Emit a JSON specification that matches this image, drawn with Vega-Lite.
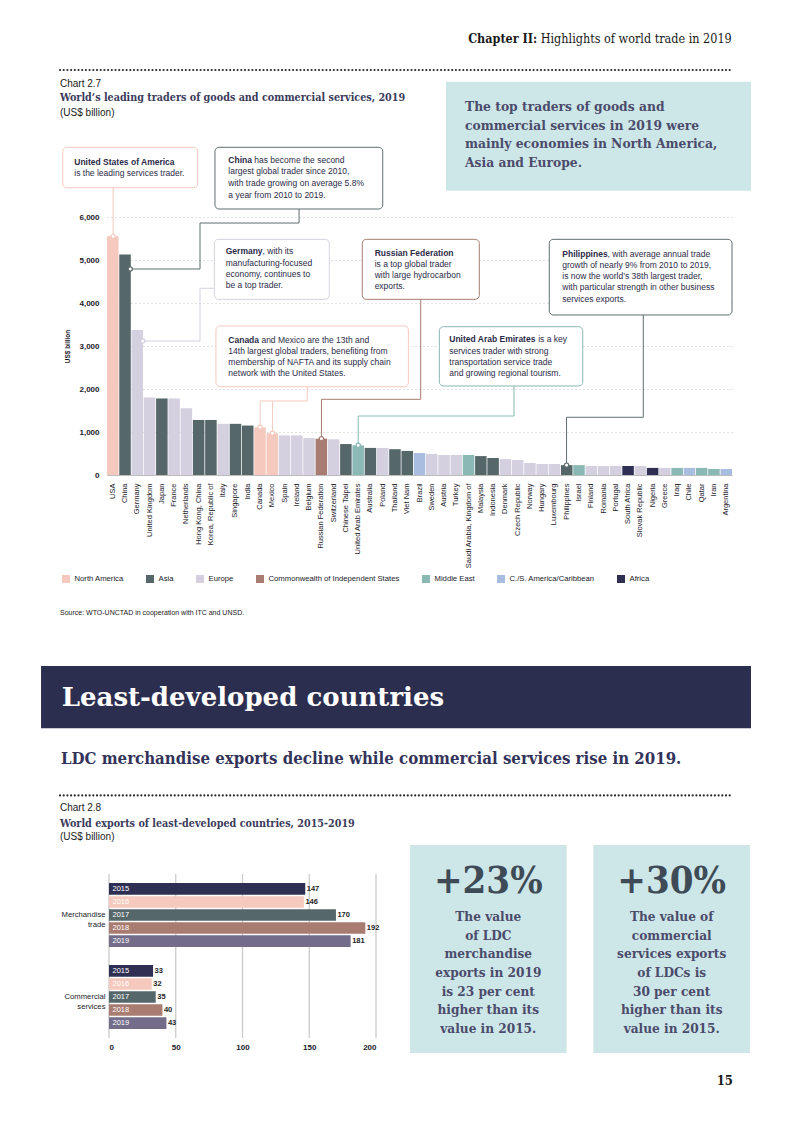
{
  "$schema": "https://vega.github.io/schema/vega-lite/v6.json",
  "width": 793,
  "height": 1122,
  "padding": 0,
  "autosize": {"type": "none"},
  "background": "white",
  "config": {"view": {"stroke": null}, "font": "Liberation Sans"},
  "datasets": {
    "traders": [
      {"country": "USA", "region": "North America", "value": 5550},
      {"country": "China", "region": "Asia", "value": 5130},
      {"country": "Germany", "region": "Europe", "value": 3370},
      {"country": "United Kingdom", "region": "Europe", "value": 1800},
      {"country": "Japan", "region": "Asia", "value": 1780},
      {"country": "France", "region": "Europe", "value": 1780},
      {"country": "Netherlands", "region": "Europe", "value": 1550},
      {"country": "Hong Kong, China", "region": "Asia", "value": 1280},
      {"country": "Korea, Republic of", "region": "Asia", "value": 1280},
      {"country": "Italy", "region": "Europe", "value": 1190},
      {"country": "Singapore", "region": "Asia", "value": 1190},
      {"country": "India", "region": "Asia", "value": 1150},
      {"country": "Canada", "region": "North America", "value": 1110},
      {"country": "Mexico", "region": "North America", "value": 970},
      {"country": "Spain", "region": "Europe", "value": 920},
      {"country": "Ireland", "region": "Europe", "value": 920},
      {"country": "Belgium", "region": "Europe", "value": 860},
      {"country": "Russian Federation", "region": "Commonwealth of Independent States", "value": 845},
      {"country": "Switzerland", "region": "Europe", "value": 830},
      {"country": "Chinese Taipei", "region": "Asia", "value": 720},
      {"country": "United Arab Emirates", "region": "Middle East", "value": 690},
      {"country": "Australia", "region": "Asia", "value": 630},
      {"country": "Poland", "region": "Europe", "value": 630},
      {"country": "Thailand", "region": "Asia", "value": 600},
      {"country": "Viet Nam", "region": "Asia", "value": 560},
      {"country": "Brazil", "region": "C./S. America/Caribbean", "value": 510},
      {"country": "Sweden", "region": "Europe", "value": 490},
      {"country": "Austria", "region": "Europe", "value": 465},
      {"country": "Turkey", "region": "Europe", "value": 465},
      {"country": "Saudi Arabia, Kingdom of", "region": "Middle East", "value": 465},
      {"country": "Malaysia", "region": "Asia", "value": 440},
      {"country": "Indonesia", "region": "Asia", "value": 395},
      {"country": "Denmark", "region": "Europe", "value": 370},
      {"country": "Czech Republic", "region": "Europe", "value": 350},
      {"country": "Norway", "region": "Europe", "value": 280},
      {"country": "Hungary", "region": "Europe", "value": 255},
      {"country": "Luxembourg", "region": "Europe", "value": 255},
      {"country": "Philippines", "region": "Asia", "value": 230},
      {"country": "Israel", "region": "Middle East", "value": 230},
      {"country": "Finland", "region": "Europe", "value": 210},
      {"country": "Romania", "region": "Europe", "value": 210},
      {"country": "Portugal", "region": "Europe", "value": 210},
      {"country": "South Africa", "region": "Africa", "value": 210},
      {"country": "Slovak Republic", "region": "Europe", "value": 210},
      {"country": "Nigeria", "region": "Africa", "value": 165},
      {"country": "Greece", "region": "Europe", "value": 165},
      {"country": "Iraq", "region": "Middle East", "value": 165},
      {"country": "Chile", "region": "C./S. America/Caribbean", "value": 165},
      {"country": "Qatar", "region": "Middle East", "value": 165},
      {"country": "Iran", "region": "Middle East", "value": 140},
      {"country": "Argentina", "region": "C./S. America/Caribbean", "value": 140}
    ],
    "boxes1": [
      {"u1": -3.61, "u2": 7.40, "v1": 7621, "v2": 6681, "region": "North America"},
      {"u1": 8.81, "u2": 22.50, "v1": 7621, "v2": 6186, "region": "Asia"},
      {"u1": 8.76, "u2": 18.14, "v1": 5481, "v2": 4086, "region": "Europe"},
      {"u1": 8.89, "u2": 24.59, "v1": 3465, "v2": 2053, "region": "North America"},
      {"u1": 20.83, "u2": 30.38, "v1": 5481, "v2": 4086, "region": "Commonwealth of Independent States"},
      {"u1": 27.12, "u2": 38.82, "v1": 3449, "v2": 2070, "region": "Middle East"},
      {"u1": 36.09, "u2": 51.0, "v1": 5481, "v2": 3721, "region": "Asia"}
    ],
    "links1": [
      {"id": "usa", "o": 1, "u": 0.5, "v": 6681, "region": "North America"},
      {"id": "usa", "o": 2, "u": 0.5, "v": 5550, "region": "North America"},
      {"id": "chn", "o": 1, "u": 15.67, "v": 6186, "region": "Asia"},
      {"id": "chn", "o": 2, "u": 15.67, "v": 5860, "region": "Asia"},
      {"id": "chn", "o": 3, "u": 7.59, "v": 5860, "region": "Asia"},
      {"id": "chn", "o": 4, "u": 7.59, "v": 4791, "region": "Asia"},
      {"id": "chn", "o": 5, "u": 1.90, "v": 4791, "region": "Asia"},
      {"id": "deu", "o": 1, "u": 8.76, "v": 4342, "region": "Europe"},
      {"id": "deu", "o": 2, "u": 7.59, "v": 4342, "region": "Europe"},
      {"id": "deu", "o": 3, "u": 7.59, "v": 3116, "region": "Europe"},
      {"id": "deu", "o": 4, "u": 2.91, "v": 3116, "region": "Europe"},
      {"id": "mex", "o": 1, "u": 16.34, "v": 2053, "region": "North America"},
      {"id": "mex", "o": 2, "u": 16.34, "v": 1721, "region": "North America"},
      {"id": "mex", "o": 3, "u": 13.5, "v": 1721, "region": "North America"},
      {"id": "mex", "o": 4, "u": 13.5, "v": 970, "region": "North America"},
      {"id": "can", "o": 1, "u": 13.5, "v": 1721, "region": "North America"},
      {"id": "can", "o": 2, "u": 12.5, "v": 1721, "region": "North America"},
      {"id": "can", "o": 3, "u": 12.5, "v": 1110, "region": "North America"},
      {"id": "rus", "o": 1, "u": 25.60, "v": 4086, "region": "Commonwealth of Independent States"},
      {"id": "rus", "o": 2, "u": 25.60, "v": 1760, "region": "Commonwealth of Independent States"},
      {"id": "rus", "o": 3, "u": 17.5, "v": 1760, "region": "Commonwealth of Independent States"},
      {"id": "rus", "o": 4, "u": 17.5, "v": 845, "region": "Commonwealth of Independent States"},
      {"id": "are", "o": 1, "u": 33.21, "v": 2070, "region": "Middle East"},
      {"id": "are", "o": 2, "u": 33.21, "v": 1372, "region": "Middle East"},
      {"id": "are", "o": 3, "u": 20.5, "v": 1372, "region": "Middle East"},
      {"id": "are", "o": 4, "u": 20.5, "v": 690, "region": "Middle East"},
      {"id": "phl", "o": 1, "u": 43.76, "v": 3721, "region": "Asia"},
      {"id": "phl", "o": 2, "u": 43.76, "v": 1342, "region": "Asia"},
      {"id": "phl", "o": 3, "u": 37.5, "v": 1342, "region": "Asia"},
      {"id": "phl", "o": 4, "u": 37.5, "v": 230, "region": "Asia"}
    ],
    "dots1": [
      {"u": 0.5, "v": 5550, "region": "North America"},
      {"u": 1.90, "v": 4791, "region": "Asia"},
      {"u": 2.91, "v": 3116, "region": "Europe"},
      {"u": 12.5, "v": 1110, "region": "North America"},
      {"u": 13.5, "v": 970, "region": "North America"},
      {"u": 17.5, "v": 845, "region": "Commonwealth of Independent States"},
      {"u": 20.5, "v": 690, "region": "Middle East"},
      {"u": 37.5, "v": 230, "region": "Asia"}
    ],
    "notes1": [
      {"k": "hb", "u": 35.11, "v": 10140, "t": "Chapter II:"},
      {"k": "hr", "u": 35.39, "v": 10140, "t": "Highlights of world trade in 2019"},
      {"k": "c", "u": -3.835, "v": 9093, "t": "Chart 2.7"},
      {"k": "t", "u": -3.835, "v": 8761, "t": "World’s leading traders of goods and commercial services, 2019"},
      {"k": "c", "u": -3.835, "v": 8426, "t": "(US$ billion)"},
      {"k": "i", "u": 29.21, "v": 8551, "t": "The top traders of goods and"},
      {"k": "i", "u": 29.21, "v": 8116, "t": "commercial services in 2019 were"},
      {"k": "i", "u": 29.21, "v": 7691, "t": "mainly economies in North America,"},
      {"k": "i", "u": 29.21, "v": 7249, "t": "Asia and Europe."},
      {"k": "nb", "u": -2.67, "v": 7286, "t": "United States of America"},
      {"k": "nr", "u": -2.67, "v": 7030, "t": "is the leading services trader."},
      {"k": "nb", "u": 9.90, "v": 7326, "t": "China"},
      {"k": "nr", "u": 12.02, "v": 7326, "t": "has become the second"},
      {"k": "nr", "u": 9.90, "v": 7070, "t": "largest global trader since 2010,"},
      {"k": "nr", "u": 9.90, "v": 6798, "t": "with trade growing on average 5.8%"},
      {"k": "nr", "u": 9.90, "v": 6512, "t": "a year from 2010 to 2019."},
      {"k": "nb", "u": 9.69, "v": 5209, "t": "Germany"},
      {"k": "nr", "u": 12.69, "v": 5209, "t": ", with its"},
      {"k": "nr", "u": 9.69, "v": 4937, "t": "manufacturing-focused"},
      {"k": "nr", "u": 9.69, "v": 4674, "t": "economy, continues to"},
      {"k": "nr", "u": 9.69, "v": 4419, "t": "be a top trader."},
      {"k": "nb", "u": 9.90, "v": 3140, "t": "Canada"},
      {"k": "nr", "u": 12.60, "v": 3140, "t": "and Mexico are the 13th and"},
      {"k": "nr", "u": 9.90, "v": 2884, "t": "14th largest global traders, benefiting from"},
      {"k": "nr", "u": 9.90, "v": 2628, "t": "membership of NAFTA and its supply chain"},
      {"k": "nr", "u": 9.90, "v": 2365, "t": "network with the United States."},
      {"k": "nb", "u": 21.84, "v": 5170, "t": "Russian Federation"},
      {"k": "nr", "u": 21.84, "v": 4907, "t": "is a top global trader"},
      {"k": "nr", "u": 21.84, "v": 4651, "t": "with large hydrocarbon"},
      {"k": "nr", "u": 21.84, "v": 4395, "t": "exports."},
      {"k": "nb", "u": 27.93, "v": 3156, "t": "United Arab Emirates"},
      {"k": "nr", "u": 35.18, "v": 3156, "t": "is a key"},
      {"k": "nr", "u": 27.93, "v": 2891, "t": "services trader with strong"},
      {"k": "nr", "u": 27.93, "v": 2628, "t": "transportation service trade"},
      {"k": "nr", "u": 27.93, "v": 2365, "t": "and growing regional tourism."},
      {"k": "nb", "u": 37.15, "v": 5140, "t": "Philippines"},
      {"k": "nr", "u": 40.85, "v": 5140, "t": ", with average annual trade"},
      {"k": "nr", "u": 37.15, "v": 4884, "t": "growth of nearly 9% from 2010 to 2019,"},
      {"k": "nr", "u": 37.15, "v": 4621, "t": "is now the world’s 38th largest trader,"},
      {"k": "nr", "u": 37.15, "v": 4365, "t": "with particular strength in other business"},
      {"k": "nr", "u": 37.15, "v": 4086, "t": "services exports."},
      {"k": "s", "u": -3.835, "v": -3209, "t": "Source: WTO-UNCTAD in cooperation with ITC and UNSD."}
    ],
    "ldc": [
      {"flow": "Merchandise trade", "year": "2015", "value": 147},
      {"flow": "Merchandise trade", "year": "2016", "value": 146},
      {"flow": "Merchandise trade", "year": "2017", "value": 170},
      {"flow": "Merchandise trade", "year": "2018", "value": 192},
      {"flow": "Merchandise trade", "year": "2019", "value": 181},
      {"flow": "Commercial services", "year": "2015", "value": 33},
      {"flow": "Commercial services", "year": "2016", "value": 32},
      {"flow": "Commercial services", "year": "2017", "value": 35},
      {"flow": "Commercial services", "year": "2018", "value": 40},
      {"flow": "Commercial services", "year": "2019", "value": 43}
    ],
    "boxes2": [
      {"k": "ban", "x1": -50.9, "x2": 480.9, "y1": 279, "y2": 232.3},
      {"k": "stat", "x1": 225.5, "x2": 342.8, "y1": 144.75, "y2": -11.25},
      {"k": "stat", "x1": 362.8, "x2": 480.1, "y1": 144.75, "y2": -11.25}
    ],
    "notes2": [
      {"k": "ban", "x": -35.4, "y": 254.8, "t": "Least-developed countries"},
      {"k": "sub", "x": -36.0, "y": 209.3, "t": "LDC merchandise exports decline while commercial services rise in 2019."},
      {"k": "c", "x": -36.7, "y": 172.3, "t": "Chart 2.8"},
      {"k": "t", "x": -36.7, "y": 160.5, "t": "World exports of least-developed countries, 2015-2019"},
      {"k": "c", "x": -36.7, "y": 150.5, "t": "(US$ billion)"},
      {"k": "big", "x": 284.1, "y": 117.2, "t": "+23%"},
      {"k": "big", "x": 421.5, "y": 117.2, "t": "+30%"},
      {"k": "stat", "x": 284.1, "y": 90.5, "t": "The value"},
      {"k": "stat", "x": 284.1, "y": 76.7, "t": "of LDC"},
      {"k": "stat", "x": 284.1, "y": 62.8, "t": "merchandise"},
      {"k": "stat", "x": 284.1, "y": 48.75, "t": "exports in 2019"},
      {"k": "stat", "x": 284.1, "y": 34.7, "t": "is 23 per cent"},
      {"k": "stat", "x": 284.1, "y": 20.8, "t": "higher than its"},
      {"k": "stat", "x": 284.1, "y": 6.75, "t": "value in 2015."},
      {"k": "stat", "x": 421.5, "y": 90.5, "t": "The value of"},
      {"k": "stat", "x": 421.5, "y": 76.7, "t": "commercial"},
      {"k": "stat", "x": 421.5, "y": 62.8, "t": "services exports"},
      {"k": "stat", "x": 421.5, "y": 48.75, "t": "of LDCs is"},
      {"k": "stat", "x": 421.5, "y": 34.7, "t": "30 per cent"},
      {"k": "stat", "x": 421.5, "y": 20.8, "t": "higher than its"},
      {"k": "stat", "x": 421.5, "y": 6.75, "t": "value in 2015."},
      {"k": "pg", "x": 467.4, "y": -32.25, "t": "15"}
    ]
  },
  "resolve": {
    "scale": {"x": "independent", "y": "independent", "color": "independent", "stroke": "independent"},
    "axis": {"x": "independent", "y": "independent"},
    "legend": {"color": "independent", "stroke": "independent"}
  },
  "layer": [
    {
      "data": {"name": "traders"},
      "mark": {"type": "bar"},
      "encoding": {
        "x": {"field": "country", "type": "nominal", "sort": null,
          "scale": {"range": [107, 732], "paddingInner": 0.06, "paddingOuter": 0},
          "axis": {"orient": "bottom", "offset": -647, "title": null, "labelAngle": -90, "labelFontSize": 7.5, "labelColor": "#1a1a2a", "labelPadding": 8, "ticks": false, "domainColor": "#bdbdbd", "labelOverlap": false, "labelLimit": 200}},
        "y": {"field": "value", "type": "quantitative",
          "scale": {"domain": [0, 6000], "range": [475, 217], "nice": false},
          "axis": {"orient": "left", "offset": -107, "values": [0, 1000, 2000, 3000, 4000, 5000, 6000], "format": ",.0f", "title": "US$ billion", "titleFontSize": 6.5, "titleFontWeight": "bold", "titleColor": "#1a1a2a", "titlePadding": 8, "labelFontSize": 8, "labelFontWeight": "bold", "labelColor": "#1a1a2a", "labelPadding": 8, "ticks": false, "domain": false, "grid": true, "gridDash": [1, 3], "gridColor": "#c4c4c4"}},
        "color": {"field": "region", "type": "nominal",
          "scale": {"domain": ["North America", "Asia", "Europe", "Commonwealth of Independent States", "Middle East", "C./S. America/Caribbean", "Africa"],
            "range": ["#f5c9bd", "#56676a", "#d5d0e0", "#a87c70", "#8ab8b5", "#a9bde0", "#2e2f52"]},
          "legend": {"title": null, "orient": "none", "legendX": 62, "legendY": 575, "direction": "horizontal", "columns": 7, "symbolType": "square", "symbolSize": 64, "symbolStrokeWidth": 0, "labelFontSize": 7.7, "labelColor": "#1a1a2a", "labelOffset": 4.5, "columnPadding": 22, "padding": 0}}
      }
    },
    {
      "encoding": {
        "x": {"field": "u", "type": "quantitative", "scale": {"domain": [0, 51], "range": [107, 732], "nice": false, "zero": false}, "axis": null},
        "y": {"field": "v", "type": "quantitative", "scale": {"domain": [0, 6000], "range": [475, 217], "nice": false, "zero": false}, "axis": null}
      },
      "layer": [
        {
          "data": {"values": [{"u1": 27.66, "u2": 52.55, "v1": 9147, "v2": 6612}]},
          "mark": {"type": "rect", "fill": "#cde6e8"},
          "encoding": {
            "x": {"field": "u1", "type": "quantitative", "scale": {"domain": [0, 51], "range": [107, 732], "nice": false, "zero": false}, "axis": null},
            "x2": {"field": "u2"},
            "y": {"field": "v1", "type": "quantitative", "scale": {"domain": [0, 6000], "range": [475, 217], "nice": false, "zero": false}, "axis": null},
            "y2": {"field": "v2"}
          }
        },
        {
          "data": {"values": [{"u1": -3.835, "u2": 51.07, "v": 9419}]},
          "mark": {"type": "rule", "color": "#2a2a2a", "strokeWidth": 2.2, "strokeCap": "round", "strokeDash": [0, 3.7]},
          "encoding": {
            "x": {"field": "u1", "type": "quantitative", "scale": {"domain": [0, 51], "range": [107, 732], "nice": false, "zero": false}, "axis": null},
            "x2": {"field": "u2"}
          }
        },
        {
          "data": {"name": "boxes1"},
          "mark": {"type": "rect", "fill": "white", "strokeWidth": 1, "cornerRadius": 4},
          "encoding": {
            "x": {"field": "u1", "type": "quantitative", "scale": {"domain": [0, 51], "range": [107, 732], "nice": false, "zero": false}, "axis": null},
            "x2": {"field": "u2"},
            "y": {"field": "v1", "type": "quantitative", "scale": {"domain": [0, 6000], "range": [475, 217], "nice": false, "zero": false}, "axis": null},
            "y2": {"field": "v2"},
            "stroke": {"field": "region", "type": "nominal", "legend": null,
              "scale": {"domain": ["North America", "Asia", "Europe", "Commonwealth of Independent States", "Middle East", "C./S. America/Caribbean", "Africa"],
                "range": ["#f5c9bd", "#5f6d6e", "#d5d0e0", "#a87c70", "#8ab8b5", "#a9bde0", "#2e2f52"]}}
          }
        },
        {
          "data": {"name": "links1"},
          "mark": {"type": "line", "strokeWidth": 1, "strokeJoin": "round"},
          "encoding": {
            "detail": {"field": "id"},
            "order": {"field": "o"},
            "stroke": {"field": "region", "type": "nominal", "legend": null,
              "scale": {"domain": ["North America", "Asia", "Europe", "Commonwealth of Independent States", "Middle East", "C./S. America/Caribbean", "Africa"],
                "range": ["#f5c9bd", "#5f6d6e", "#d5d0e0", "#a87c70", "#8ab8b5", "#a9bde0", "#2e2f52"]}}
          }
        },
        {
          "data": {"name": "dots1"},
          "mark": {"type": "point", "shape": "circle", "filled": true, "fill": "white", "size": 18, "strokeWidth": 1.2, "opacity": 1},
          "encoding": {
            "stroke": {"field": "region", "type": "nominal", "legend": null,
              "scale": {"domain": ["North America", "Asia", "Europe", "Commonwealth of Independent States", "Middle East", "C./S. America/Caribbean", "Africa"],
                "range": ["#f5c9bd", "#5f6d6e", "#d5d0e0", "#a87c70", "#8ab8b5", "#a9bde0", "#2e2f52"]}}
          }
        },
        {
          "data": {"name": "notes1"},
          "transform": [{"filter": "datum.k === 'hb'"}],
          "mark": {"type": "text", "align": "right", "baseline": "middle", "font": "DejaVu Serif Condensed, DejaVu Serif", "fontSize": 12.5, "fontWeight": "bold", "fill": "#1a1a1a"},
          "encoding": {"text": {"field": "t"}}
        },
        {
          "data": {"name": "notes1"},
          "transform": [{"filter": "datum.k === 'hr'"}],
          "mark": {"type": "text", "align": "left", "baseline": "middle", "font": "DejaVu Serif Condensed, DejaVu Serif", "fontSize": 12.5, "fill": "#1a1a1a"},
          "encoding": {"text": {"field": "t"}}
        },
        {
          "data": {"name": "notes1"},
          "transform": [{"filter": "datum.k === 'c'"}],
          "mark": {"type": "text", "align": "left", "baseline": "middle", "fontSize": 10, "fill": "#1a1a1a"},
          "encoding": {"text": {"field": "t"}}
        },
        {
          "data": {"name": "notes1"},
          "transform": [{"filter": "datum.k === 't'"}],
          "mark": {"type": "text", "align": "left", "baseline": "middle", "font": "DejaVu Serif Condensed, DejaVu Serif", "fontSize": 10.7, "fontWeight": "bold", "fill": "#3b3b5c"},
          "encoding": {"text": {"field": "t"}}
        },
        {
          "data": {"name": "notes1"},
          "transform": [{"filter": "datum.k === 'i'"}],
          "mark": {"type": "text", "align": "left", "baseline": "middle", "font": "DejaVu Serif Condensed, DejaVu Serif", "fontSize": 13.7, "fontWeight": "bold", "fill": "#4b4b6b"},
          "encoding": {"text": {"field": "t"}}
        },
        {
          "data": {"name": "notes1"},
          "transform": [{"filter": "datum.k === 'nb'"}],
          "mark": {"type": "text", "align": "left", "baseline": "middle", "fontSize": 8.5, "fontWeight": "bold", "fill": "#2b2b48"},
          "encoding": {"text": {"field": "t"}}
        },
        {
          "data": {"name": "notes1"},
          "transform": [{"filter": "datum.k === 'nr'"}],
          "mark": {"type": "text", "align": "left", "baseline": "middle", "fontSize": 8.5, "fill": "#2b2b48"},
          "encoding": {"text": {"field": "t"}}
        },
        {
          "data": {"name": "notes1"},
          "transform": [{"filter": "datum.k === 's'"}],
          "mark": {"type": "text", "align": "left", "baseline": "middle", "fontSize": 7, "fill": "#1a1a1a"},
          "encoding": {"text": {"field": "t"}}
        }
      ]
    },
    {
      "data": {"values": [{"g": 0}, {"g": 50}, {"g": 100}, {"g": 150}, {"g": 200}]},
      "mark": {"type": "rule", "color": "#cacaca", "strokeWidth": 1.3},
      "encoding": {
        "x": {"field": "g", "type": "quantitative", "scale": {"domain": [0, 200], "range": [109, 376], "nice": false, "zero": false}, "axis": null},
        "y": {"datum": 0, "type": "quantitative", "scale": {"domain": [0, 123], "range": [1038, 874], "nice": false, "zero": false}, "axis": null},
        "y2": {"datum": 123}
      }
    },
    {
      "data": {"name": "ldc"},
      "encoding": {
        "y": {"field": "flow", "type": "nominal", "sort": null,
          "scale": {"range": [874, 1038], "paddingInner": 0, "paddingOuter": 0},
          "axis": {"orient": "left", "offset": -109, "title": null, "labelExpr": "split(datum.label, ' ')", "labelFontSize": 7.7, "labelColor": "#1a1a2a", "labelPadding": 4, "labelLineHeight": 10, "ticks": false, "domain": false}},
        "yOffset": {"field": "year", "type": "nominal", "scale": {"paddingInner": 0.1, "paddingOuter": 0.7}},
        "x": {"field": "value", "type": "quantitative",
          "scale": {"domain": [0, 200], "range": [109, 376], "nice": false},
          "axis": {"orient": "bottom", "offset": -84, "title": null, "values": [0, 50, 100, 150, 200], "format": "d", "labelFontSize": 8, "labelFontWeight": "bold", "labelColor": "#1a1a2a", "labelPadding": 5, "ticks": false, "domain": false, "grid": false}}
      },
      "layer": [
        {
          "mark": {"type": "bar"},
          "encoding": {
            "color": {"field": "year", "type": "nominal", "legend": null,
              "scale": {"domain": ["2015", "2016", "2017", "2018", "2019"], "range": ["#2e2f52", "#f5c9bd", "#56676a", "#a87c70", "#736d8a"]}}
          }
        },
        {
          "mark": {"type": "text", "align": "left", "baseline": "middle", "dx": 3.5, "fontSize": 7.5, "fill": "white"},
          "encoding": {"x": {"datum": 0}, "text": {"field": "year"}}
        },
        {
          "mark": {"type": "text", "align": "left", "baseline": "middle", "dx": 1.5, "fontSize": 7.5, "fontWeight": "bold", "fill": "#222222"},
          "encoding": {"text": {"field": "value"}}
        }
      ]
    },
    {
      "encoding": {
        "x": {"field": "x", "type": "quantitative", "scale": {"domain": [0, 200], "range": [109, 376], "nice": false, "zero": false}, "axis": null},
        "y": {"field": "y", "type": "quantitative", "scale": {"domain": [0, 123], "range": [1038, 874], "nice": false, "zero": false}, "axis": null}
      },
      "layer": [
        {
          "data": {"name": "boxes2"},
          "transform": [{"filter": "datum.k === 'ban'"}],
          "mark": {"type": "rect", "fill": "#2c2e50"},
          "encoding": {
            "x": {"field": "x1", "type": "quantitative", "scale": {"domain": [0, 200], "range": [109, 376], "nice": false, "zero": false}, "axis": null},
            "x2": {"field": "x2"},
            "y": {"field": "y1", "type": "quantitative", "scale": {"domain": [0, 123], "range": [1038, 874], "nice": false, "zero": false}, "axis": null},
            "y2": {"field": "y2"}
          }
        },
        {
          "data": {"name": "boxes2"},
          "transform": [{"filter": "datum.k === 'stat'"}],
          "mark": {"type": "rect", "fill": "#cde6e8"},
          "encoding": {
            "x": {"field": "x1", "type": "quantitative", "scale": {"domain": [0, 200], "range": [109, 376], "nice": false, "zero": false}, "axis": null},
            "x2": {"field": "x2"},
            "y": {"field": "y1", "type": "quantitative", "scale": {"domain": [0, 123], "range": [1038, 874], "nice": false, "zero": false}, "axis": null},
            "y2": {"field": "y2"}
          }
        },
        {
          "data": {"values": [{"x1": -36.7, "x2": 467.4, "y": 181.9}]},
          "mark": {"type": "rule", "color": "#2a2a2a", "strokeWidth": 2.2, "strokeCap": "round", "strokeDash": [0, 3.7]},
          "encoding": {
            "x": {"field": "x1", "type": "quantitative", "scale": {"domain": [0, 200], "range": [109, 376], "nice": false, "zero": false}, "axis": null},
            "x2": {"field": "x2"}
          }
        },
        {
          "data": {"name": "notes2"},
          "transform": [{"filter": "datum.k === 'ban'"}],
          "mark": {"type": "text", "align": "left", "baseline": "middle", "font": "DejaVu Serif", "fontSize": 26, "fontWeight": "bold", "fill": "white"},
          "encoding": {"text": {"field": "t"}}
        },
        {
          "data": {"name": "notes2"},
          "transform": [{"filter": "datum.k === 'sub'"}],
          "mark": {"type": "text", "align": "left", "baseline": "middle", "font": "DejaVu Serif Condensed, DejaVu Serif", "fontSize": 16.7, "fontWeight": "bold", "fill": "#33335a"},
          "encoding": {"text": {"field": "t"}}
        },
        {
          "data": {"name": "notes2"},
          "transform": [{"filter": "datum.k === 'c'"}],
          "mark": {"type": "text", "align": "left", "baseline": "middle", "fontSize": 10, "fill": "#1a1a1a"},
          "encoding": {"text": {"field": "t"}}
        },
        {
          "data": {"name": "notes2"},
          "transform": [{"filter": "datum.k === 't'"}],
          "mark": {"type": "text", "align": "left", "baseline": "middle", "font": "DejaVu Serif Condensed, DejaVu Serif", "fontSize": 10.7, "fontWeight": "bold", "fill": "#3b3b5c"},
          "encoding": {"text": {"field": "t"}}
        },
        {
          "data": {"name": "notes2"},
          "transform": [{"filter": "datum.k === 'big'"}],
          "mark": {"type": "text", "align": "center", "baseline": "middle", "font": "DejaVu Serif Condensed, DejaVu Serif", "fontSize": 38, "fontWeight": "bold", "fill": "#3e4b56"},
          "encoding": {"text": {"field": "t"}}
        },
        {
          "data": {"name": "notes2"},
          "transform": [{"filter": "datum.k === 'stat'"}],
          "mark": {"type": "text", "align": "center", "baseline": "middle", "font": "DejaVu Serif Condensed, DejaVu Serif", "fontSize": 13.5, "fontWeight": "bold", "fill": "#4b4b6b"},
          "encoding": {"text": {"field": "t"}}
        },
        {
          "data": {"name": "notes2"},
          "transform": [{"filter": "datum.k === 'pg'"}],
          "mark": {"type": "text", "align": "right", "baseline": "middle", "font": "DejaVu Serif Condensed, DejaVu Serif", "fontSize": 13, "fontWeight": "bold", "fill": "#1a1a1a"},
          "encoding": {"text": {"field": "t"}}
        }
      ]
    }
  ]
}
